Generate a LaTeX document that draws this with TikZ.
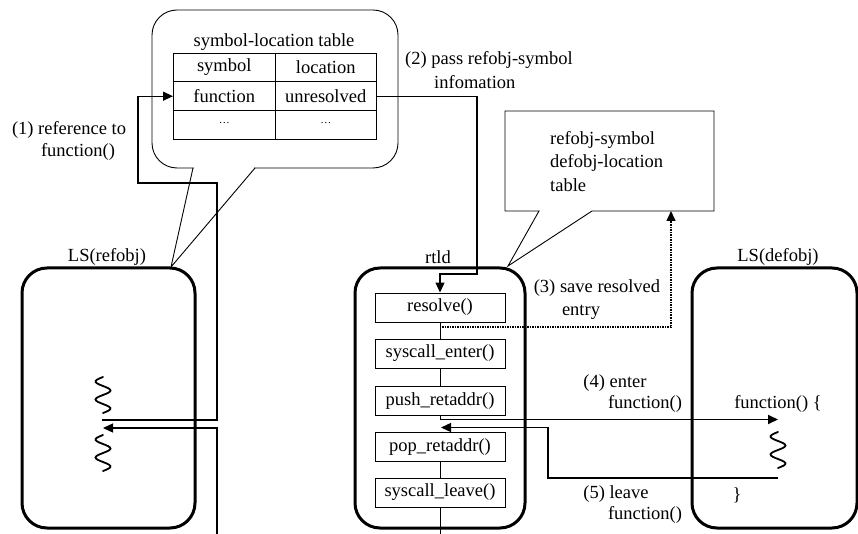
\documentclass[tikz,border=0pt]{standalone}
\usepackage{fontspec}
\setmainfont{Liberation Serif}
\usetikzlibrary{arrows.meta}
\begin{document}
\begin{tikzpicture}[x=1pt,y=-1pt,
  font=\fontsize{18.5}{22}\selectfont,
  lsbox/.style={draw,line width=3pt,rounded corners=25pt,minimum width=#1,minimum height=260pt,inner sep=0pt},
  fbox/.style={draw,line width=1pt,minimum width=130pt,minimum height=29pt,inner sep=0pt},
  cell/.style={draw,line width=1pt,minimum width=101.5pt,minimum height=28.7pt,inner sep=0pt},
  conn/.style={line width=1.3pt},
  tip/.style={-{Triangle[length=10pt,width=9pt]}},
  bubble/.style={line width=0.9pt},
  txt/.style={inner sep=0pt,anchor=center},
  squig/.pic={\draw[line width=1.8pt,line cap=round] plot[smooth,domain=0:36,samples=30] ({-7.5*sin(20*\x)},\x);}
]
\useasboundingbox (0,0) rectangle (858,534);

% ---- callout 1 with table
\draw[bubble,rounded corners=25pt] (152,10) rectangle (398,168);
\fill[white] (194,164) rectangle (254,171);
\coordinate (t1) at (171,267);
\draw[bubble] (193,168) -- (t1) -- (255,168);
\node[txt] (ttitle) at (274,42) {symbol-location table};
\node[cell] (c11) at (224.25,67.5) {symbol};
\node[cell] (c12) at (325.75,67.5) {location};
\node[cell] (c21) at (224.25,96.2) {function};
\node[cell] (c22) at (325.75,96.2) {unresolved};
\node[cell] (c31) at (224.25,124.9) {\fontsize{11}{11}\selectfont\raisebox{3pt}{\dots}};
\node[cell] (c32) at (325.75,124.9) {\fontsize{11}{11}\selectfont\raisebox{3pt}{\dots}};

% ---- callout 2
\coordinate (t2) at (508,266);
\draw[bubble] (505,111) -- (714,111) -- (714,211) -- (592,211) -- (t2) -- (539,211) -- (505,211) -- cycle;
\node[inner sep=0pt,anchor=base west] (b2a) at (550,145) {refobj-symbol};
\node[inner sep=0pt,anchor=base west] (b2b) at (550,168) {defobj-location};
\node[inner sep=0pt,anchor=base west] (b2c) at (550,192) {table};

% ---- big boxes
\node[lsbox=173pt] (ref) at (108.5,398) {};
\node[lsbox=170pt] (rtld) at (440,398) {};
\node[lsbox=165pt] (def) at (774.5,398) {};
\node[txt] (lref) at (107,257) {LS(refobj)};
\node[txt] (lrtld) at (438,257) {rtld};
\node[txt] (ldef) at (778,257) {LS(defobj)};

% ---- rtld functions
\node[fbox] (f1) at (440,307.5) {resolve()};
\node[fbox] (f2) at (440,353.5) {syscall\_enter()};
\node[fbox] (f3) at (440,401) {push\_retaddr()};
\node[fbox] (f4) at (440,447) {pop\_retaddr()};
\node[fbox] (f5) at (440,492.5) {syscall\_leave()};
\draw[line width=1pt] (f1.south) -- (f2.north);
\draw[line width=1pt] (f2.south) -- (f3.north);
\draw[line width=1pt] (f4.south) -- (f5.north);
\coordinate (bot) at (440,534);
\draw[line width=1pt] (f5.south) -- (bot);

% ---- squiggles
\pic at (103,377) {squig};
\pic at (103,435) {squig};
\pic at (778,432) {squig};

% ---- (1) reference
\coordinate (r1) at (102,420);
\draw[conn,tip] (r1) -- (217,420) -- (217,183) -- (138,183) -- (138,96.2) -- (c21.west);
\node[txt] (l1a) at (69,130) {(1) reference to};
\node[txt] (l1b) at (78,152) {function()};

% ---- return into refobj
\coordinate (r2) at (103,428);
\coordinate (r2b) at (217,534);
\draw[conn,tip] (r2b) -- (217,428) -- (r2);

% ---- (2) pass
\draw[conn,tip] (c22.east) -- (477,96.2) -- (477,274) -- (440,274) -- (f1.north);
\node[txt,anchor=west] (l2a) at (405,60) {(2) pass refobj-symbol};
\node[txt,anchor=west] (l2b) at (434,82) {infomation};

% ---- (3) save
\coordinate (s3) at (442,327);
\draw[line width=1.5pt,densely dotted,tip] (s3) -- (671,327) -- (671,211);
\node[txt] (l3a) at (597,288) {(3) save resolved};
\node[txt] (l3b) at (581,312) {entry};

% ---- (4) enter
\coordinate (e4) at (440,419.5);
\coordinate (e4t) at (778,419.5);
\draw[line width=1pt] (f3.south) -- (e4);
\draw[line width=1.8pt,tip] (e4) -- (e4t);
\node[txt] (l4a) at (615,383) {(4) enter};
\node[txt] (l4b) at (645,404) {function()};
\node[txt] (fn) at (778,404) {function() \{};

% ---- (5) leave
\coordinate (e5) at (778,478);
\coordinate (e5t) at (441,427.5);
\draw[conn,tip] (e5) -- (548,478) -- (548,427.5) -- (e5t);
\node[txt] (l5a) at (616,494) {(5) leave};
\node[txt] (l5b) at (645,515) {function()};
\node[txt] (cb) at (737,495) {\}};
\end{tikzpicture}
\end{document}
